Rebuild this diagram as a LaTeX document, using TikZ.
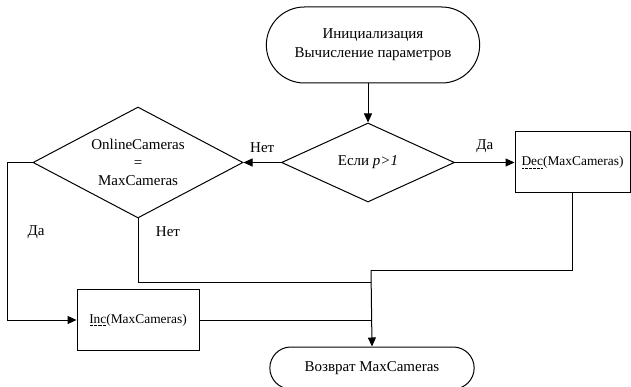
\documentclass[tikz,border=0pt]{standalone}
\usepackage{fontspec}
\setmainfont{Liberation Serif}
\usetikzlibrary{shapes.geometric,shapes.misc,arrows.meta}
\newcommand{\dotul}[1]{\setbox0\hbox{#1}\rlap{\raisebox{-2.5pt}{\hbox to \wd0{\xleaders\hbox to 1.3pt{\hss\rule{0.6pt}{0.6pt}\hss}\hfill}}}\box0}

\begin{document}
\begin{tikzpicture}[x=1pt, y=-1pt, line width=1pt,
    font=\fontsize{15}{18}\selectfont,
    term/.style={rounded rectangle, draw},
    cond/.style={diamond, draw},
    block/.style={rectangle, draw, minimum width=115, minimum height=61, font=\fontsize{13.4}{16}\selectfont},
    flow/.style={-{Triangle[length=9pt,width=8pt]}}]
    \useasboundingbox (0,0) rectangle (631,387);
    \node[term, minimum width=220, minimum height=76, align=center] (init) at (373,45) {Инициализация\\[1pt]Вычисление параметров};
    \node[cond, minimum width=173, minimum height=79, label={center:Если \textit{p>1}}] (ifp) at (368,162.5) {};
    \node[cond, minimum width=210, minimum height=111, label={[align=center]center:OnlineCameras\\=\\MaxCameras}] (check) at (138,162.5) {};
    \node[block] (dec) at (572.5,162.5) {\dotul{Dec}(MaxCameras)};
    \node[block, minimum width=122] (inc) at (138,320) {\dotul{Inc}(MaxCameras)};
    \node[term, minimum width=211, minimum height=42] (ret) at (372,368) {Возврат MaxCameras};
    \coordinate (j1) at (371,270);
    \coordinate (j2) at (371,282);
    \coordinate (j3) at (371,320);
    \path (ifp.north |- init.south) edge[flow] (ifp.north);
    \path (ifp.west) edge[flow] node[above=6pt] {Нет} (check.east);
    \path (ifp.east) edge[flow] node[above=6pt] {Да} (dec.west);
    \draw[flow] (check.west) -- ++(-25,0) |- (inc.west);
    \draw (dec.south) |- (j1);
    \draw (check.south) |- (j2);
    \draw (inc.east) -- (j3);
    \draw[flow] (j1) -- (ret.north);
    \node (yes) at (36,232) {Да};
    \node (no) at (168,232) {Нет};
\end{tikzpicture}
\end{document}
